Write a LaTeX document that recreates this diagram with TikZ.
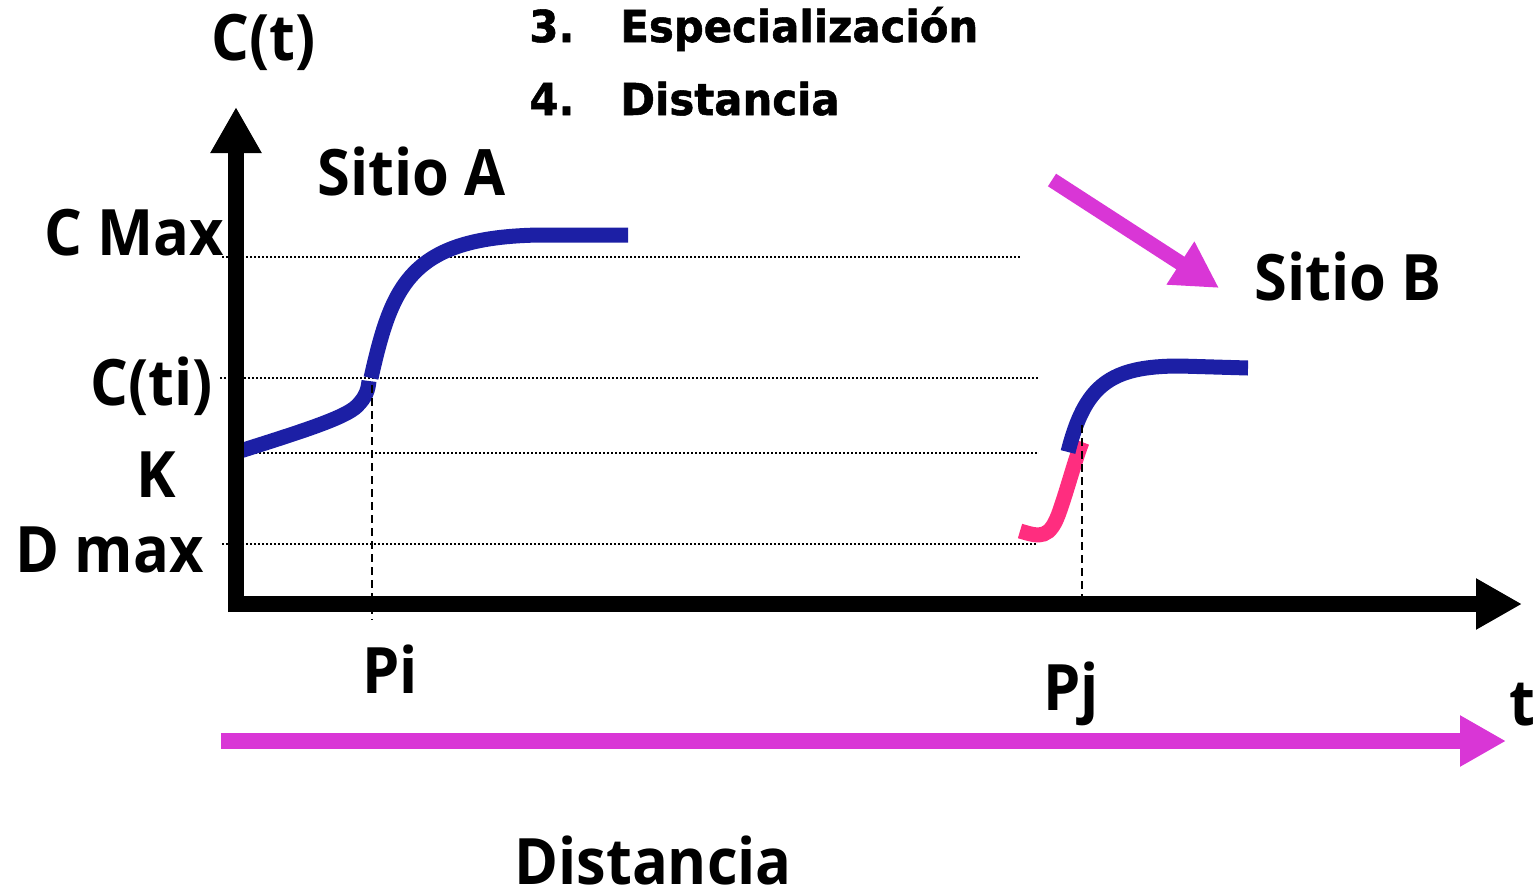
\documentclass[tikz,border=0pt]{standalone}
\usepackage{fontspec}
\usetikzlibrary{arrows.meta}
\newfontfamily\labfont{Open Sans}[FakeStretch=0.93]
\newfontfamily\listfont{DejaVu Sans}[FakeStretch=0.95,BoldFeatures={FakeBold=1.2}]
\definecolor{curveblue}{RGB}{28,31,165}
\definecolor{curvepink}{RGB}{255,45,127}
\definecolor{arrowmag}{RGB}{217,54,214}
\tikzset{
  lab/.style={anchor=base west,inner sep=0pt,font=\labfont\bfseries\fontsize{32}{36}\selectfont},
  listitem/.style={anchor=base west,inner sep=0pt,font=\listfont\bfseries\fontsize{22}{26}\selectfont},
  guide/.style={line width=1pt,dash pattern=on 1pt off 1pt},
  drop/.style={line width=1pt,dash pattern=on 4pt off 2.5pt},
  axis/.style={line width=8pt,-{Triangle[length=23pt,width=24pt]}},
  bigarrow/.style={arrowmag,line width=7.5pt,-{Triangle[length=23pt,width=24pt]}},
  curveA/.style={curveblue,line width=7.5pt},
  curveP/.style={curvepink,line width=7.5pt},
}
\begin{document}
\begin{tikzpicture}[x=0.5pt,y=-0.5pt]
\useasboundingbox (0,0) rectangle (1535,894);
% guide coordinates
\coordinate (cmaxL) at (222,257); \coordinate (cmaxR) at (1022,257);
\coordinate (ctiL) at (220,378);  \coordinate (ctiR) at (1038,378);
\coordinate (kL) at (235,453);    \coordinate (kR) at (1038,453);
\coordinate (dmL) at (222,544);   \coordinate (dmR) at (1036,544);
\draw[guide] (cmaxL) -- (cmaxR);
\draw[guide] (ctiL) -- (ctiR);
\draw[guide] (kL) -- (kR);
\draw[guide] (dmL) -- (dmR);
% curves
\draw[curveA] (237,452) .. controls (300,432) and (345,418) .. (357,406) .. controls (366,397) and (368,390) .. (369,381);
\draw[curveA] (371,378) .. controls (392,285) and (410,237) .. (540,235) -- (628,235);
\draw[curveP] (1020,531) .. controls (1040,537) and (1050,540) .. (1060,510) .. controls (1068,487) and (1075,460) .. (1082,442);
\draw[curveA] (1068,452) .. controls (1085,385) and (1110,366) .. (1180,366) -- (1248,368);
% drop lines
\coordinate (piT) at (372,385); \coordinate (piB) at (372,620);
\coordinate (pjT) at (1082,425); \coordinate (pjB) at (1082,600);
\draw[drop] (piT) -- (piB);
\draw[drop] (pjT) -- (pjB);
% axes
\coordinate (origin) at (236,612);
\coordinate (ytip) at (236,107);
\coordinate (xstart) at (229,604);
\coordinate (xtip) at (1522,604);
\draw[axis] (origin) -- (ytip);
\draw[axis] (xstart) -- (xtip);
% magenta arrows
\coordinate (dA) at (1052,180); \coordinate (dB) at (1219,288);
\draw[bigarrow] (dA) -- (dB);
\coordinate (hA) at (221,741); \coordinate (hB) at (1506,741);
\draw[bigarrow,line width=8pt] (hA) -- (hB);
% labels
\node[lab] (ct) at (211,60) {C(t)};
\node[lab] (sitioA) at (317,195) {Sitio A};
\node[lab] (sitioB) at (1254,300) {Sitio B};
\node[lab] (cmax) at (44,255) {C Max};
\node[lab] (cti) at (90,405) {C(ti)};
\node[lab] (k) at (136,497) {K};
\node[lab] (dmax) at (15,572) {D max};
\node[lab] (pi) at (362,693) {Pi};
\node[lab] (pj) at (1043,710) {Pj};
\node[lab] (t) at (1509,725) {t};
\node[lab,text depth=0pt] (dist) at (514,884) {Distancia};
\node[listitem] (n3) at (529,42) {3.};
\node[listitem] (i3) at (620,42) {Especialización};
\node[listitem] (n4) at (529,115) {4.};
\node[listitem] (i4) at (620,115) {Distancia};
\end{tikzpicture}
\end{document}
